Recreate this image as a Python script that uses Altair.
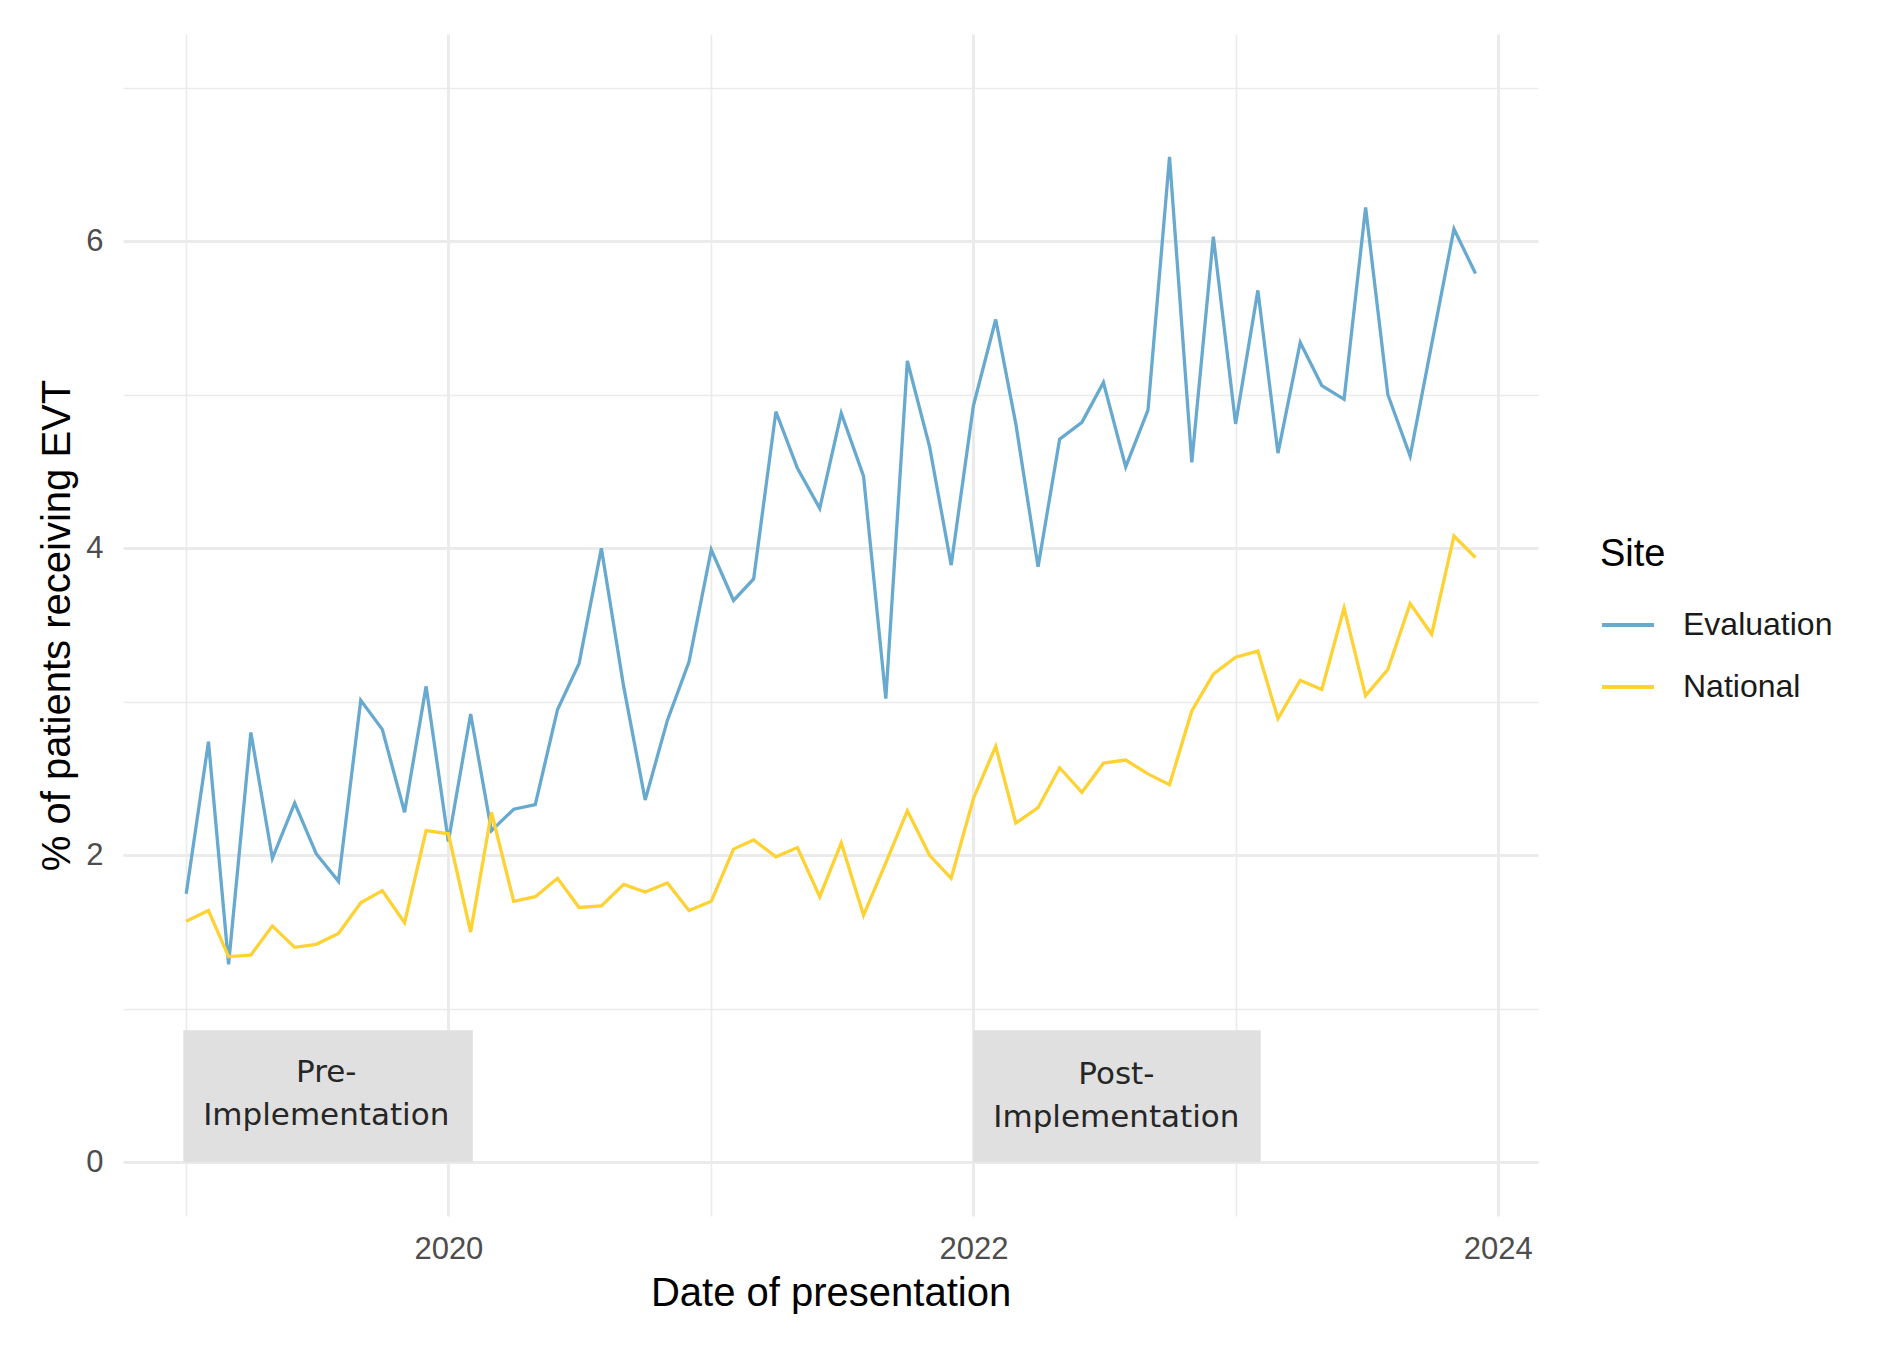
import altair as alt
import pandas as pd

# ---- data -----------------------------------------------------------------
months = pd.date_range("2019-01-01", periods=60, freq="MS").strftime("%Y-%m-%d").tolist()

evaluation = [1.75, 2.74, 1.29, 2.80, 1.98, 2.34, 2.01, 1.83, 3.01, 2.82, 2.28, 3.10,
              2.09, 2.92, 2.16, 2.30, 2.33, 2.95, 3.25, 4.00, 3.10, 2.36, 2.88, 3.26,
              3.99, 3.66, 3.80, 4.89, 4.52, 4.26, 4.88, 4.47, 3.02, 5.22, 4.66, 3.89,
              4.93, 5.49, 4.81, 3.88, 4.71, 4.82, 5.08, 4.53, 4.90, 6.55, 4.56, 6.03,
              4.81, 5.68, 4.62, 5.34, 5.06, 4.97, 6.22, 5.00, 4.60, 5.33, 6.08, 5.79]

national = [1.57, 1.64, 1.34, 1.35, 1.54, 1.40, 1.42, 1.49, 1.69, 1.77, 1.56, 2.16,
            2.14, 1.50, 2.28, 1.70, 1.73, 1.85, 1.66, 1.67, 1.81, 1.76, 1.82, 1.64,
            1.70, 2.04, 2.10, 1.99, 2.05, 1.73, 2.08, 1.61, 1.95, 2.29, 2.00, 1.85,
            2.37, 2.71, 2.21, 2.31, 2.57, 2.41, 2.60, 2.62, 2.53, 2.46, 2.94, 3.18,
            3.29, 3.33, 2.89, 3.14, 3.08, 3.61, 3.04, 3.21, 3.64, 3.44, 4.08, 3.94]

sites = ["Evaluation", "National"]
site_colors = ["#67a9cf", "#fdd232"]

period_labels = ["Pre-\nImplementation", "Post-\nImplementation"]
period_start = ["2018-12-28", "2022-01-01"]
period_end = ["2020-02-04", "2023-02-05"]
period_mid = ["2019-07-15", "2022-07-19"]
period_bottom = [0, 0]
period_top = [0.86, 0.86]
period_text_y = [0.58, 0.57]

df = pd.DataFrame({
    "date": months * 2,
    "site": [sites[0]] * len(evaluation) + [sites[1]] * len(national),
    "pct": evaluation + national,
})
ann = pd.DataFrame({
    "label": period_labels, "x0": period_start, "x1": period_end, "xc": period_mid,
    "y0": period_bottom, "y1": period_top, "yc": period_text_y,
})

# ---- scales / axes ----------------------------------------------------------
FONT = "Liberation Sans"
GRID = "#ebebeb"

x_scale = alt.Scale(type="utc", domain=[alt.DateTime(year=2018, month=10, date=5, utc=True),
                                        alt.DateTime(year=2024, month=2, date=26, utc=True)])
y_scale = alt.Scale(domain=[-0.35, 7.35], nice=False, zero=False)

x_axis = alt.Axis(
    title="Date of presentation",
    values=[alt.DateTime(year=y, month=1, date=1, utc=True) for y in range(2019, 2025)],
    labelExpr="utcyear(datum.value) % 2 == 0 ? utcFormat(datum.value, '%Y') : ''",
    gridWidth={"condition": {"test": "utcyear(datum.value) % 2 == 0", "value": 3}, "value": 1.6},
    gridColor=GRID, domain=False, ticks=False,
    labelFont=FONT, labelFontSize=31, labelColor="#4d4d4d", labelPadding=18,
    titleFont=FONT, titleFontSize=40, titleFontWeight="normal", titleColor="#000000",
    titlePadding=9, labelFlush=False, labelOverlap=False,
)
y_axis = alt.Axis(
    title="% of patients receiving EVT",
    values=[0, 1, 2, 3, 4, 5, 6, 7],
    labelExpr="datum.value % 2 == 0 ? datum.label : ''",
    gridWidth={"condition": {"test": "datum.value % 2 == 0", "value": 3}, "value": 1.6},
    gridColor=GRID, domain=False, ticks=False,
    labelFont=FONT, labelFontSize=31, labelColor="#4d4d4d", labelPadding=20,
    titleFont=FONT, titleFontSize=40, titleFontWeight="normal", titleColor="#000000",
    titlePadding=8, labelOverlap=False,
)

rects = alt.Chart(ann).mark_rect(color="#e0e0e0").encode(
    x=alt.X("x0:T", scale=x_scale, axis=x_axis),
    x2="x1:T",
    y=alt.Y("y0:Q", scale=y_scale, axis=y_axis),
    y2="y1:Q",
)

lines = alt.Chart(df).mark_line(strokeWidth=3.3).encode(
    x=alt.X("date:T", scale=x_scale, axis=x_axis),
    y=alt.Y("pct:Q", scale=y_scale, axis=y_axis),
    color=alt.Color(
        "site:N",
        scale=alt.Scale(domain=sites, range=site_colors),
        legend=alt.Legend(
            title="Site", orient="none", legendX=1477, legendY=502,
            symbolType="stroke", symbolStrokeWidth=4, symbolSize=2700,
            labelFont=FONT, labelFontSize=32, labelColor="#1a1a1a", labelOffset=27,
            titleFont=FONT, titleFontSize=38, titleFontWeight="normal", titleColor="#000000",
            titlePadding=23, rowPadding=18,
        ),
    ),
)

texts = alt.Chart(ann).mark_text(
    font="DejaVu Sans", fontSize=31, color="#262626", lineBreak="\n",
    lineHeight=43, align="center", baseline="middle",
).encode(
    x=alt.X("xc:T", scale=x_scale, axis=x_axis),
    y=alt.Y("yc:Q", scale=y_scale, axis=y_axis),
    text="label:N",
)

chart = alt.layer(rects, lines, texts).properties(
    width=1415, height=1182,
    autosize=alt.AutoSizeParams(type="none"),
    padding={"left": 115, "top": 26, "right": 330, "bottom": 120},
    background="white",
).configure_view(stroke=None)

chart.save("out.html", embed_options={"renderer": "svg", "actions": False})
